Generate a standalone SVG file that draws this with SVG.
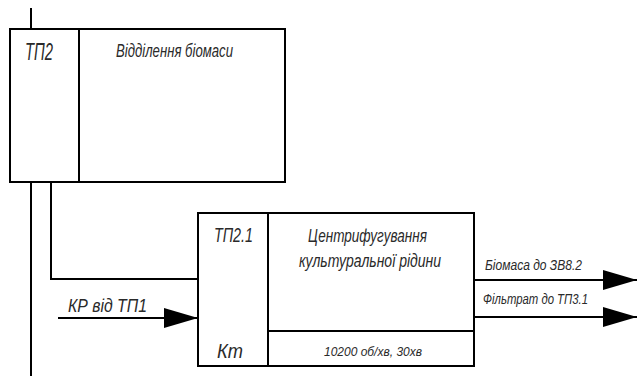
<svg xmlns="http://www.w3.org/2000/svg" width="637" height="376" viewBox="0 0 637 376">
<style>
.ln{fill:none;stroke:#000;stroke-width:2}
.bx{fill:#fff;stroke:#000;stroke-width:2}
text{font-family:"Liberation Sans Narrow","Liberation Sans",Arial,sans-serif;font-style:italic;fill:#2a2a2a}
</style>
<defs>
<marker id="ah" markerUnits="userSpaceOnUse" markerWidth="36" markerHeight="20" refX="34" refY="10" orient="auto">
<path d="M0,0 L34,10 L0,20 Z" fill="#000"/>
</marker>
</defs>
<rect width="637" height="376" fill="#fff"/>
<g id="connectors">
<line class="ln" x1="31" y1="8" x2="31" y2="29"/>
<line class="ln" x1="31" y1="182" x2="31" y2="376"/>
<polyline class="ln" points="51,182 51,279 198,279"/>
<line class="ln" x1="58" y1="318" x2="198" y2="318" marker-end="url(#ah)"/>
<line class="ln" x1="474" y1="280" x2="637" y2="280" marker-end="url(#ah)"/>
<line class="ln" x1="474" y1="317" x2="637" y2="317" marker-end="url(#ah)"/>
<text x="68" y="312" font-size="19" textLength="79" lengthAdjust="spacingAndGlyphs">КР від ТП1</text>
<text x="485" y="270" font-size="14" textLength="97" lengthAdjust="spacingAndGlyphs">Біомаса до ЗВ8.2</text>
<text x="483" y="304" font-size="14" textLength="105" lengthAdjust="spacingAndGlyphs">Фільтрат до ТП3.1</text>
</g>
<g id="tp2">
<rect class="bx" x="10" y="29" width="275" height="153"/>
<line class="ln" x1="79" y1="29" x2="79" y2="182"/>
<text x="25" y="60" font-size="23" textLength="28" lengthAdjust="spacingAndGlyphs">ТП2</text>
<text x="116" y="57" font-size="19" textLength="117" lengthAdjust="spacingAndGlyphs">Відділення біомаси</text>
</g>
<g id="tp21">
<rect class="bx" x="198" y="213" width="276" height="153"/>
<line class="ln" x1="268" y1="213" x2="268" y2="366"/>
<line class="ln" x1="268" y1="331" x2="474" y2="331"/>
<text x="214" y="242" font-size="20" textLength="39" lengthAdjust="spacingAndGlyphs">ТП2.1</text>
<text x="308" y="242" font-size="19" textLength="119" lengthAdjust="spacingAndGlyphs">Центрифугування</text>
<text x="299" y="267" font-size="19" textLength="142" lengthAdjust="spacingAndGlyphs">культуральної рідини</text>
<text x="217" y="358" font-size="21" textLength="26" lengthAdjust="spacingAndGlyphs">Кт</text>
<text x="324" y="356" font-size="13" textLength="98" lengthAdjust="spacingAndGlyphs">10200 об/хв, 30хв</text>
</g>
</svg>
